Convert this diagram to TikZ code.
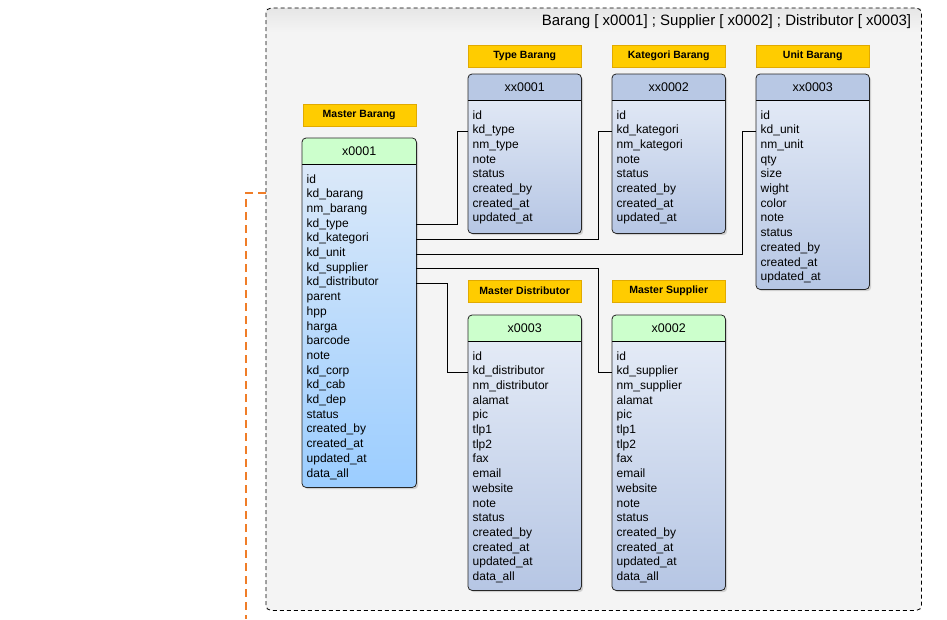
\documentclass[tikz,border=0pt]{standalone}
\usepackage{fontspec}
\setmainfont{Liberation Sans}
\usetikzlibrary{positioning,calc,shadows}
\definecolor{cYel}{RGB}{255,204,0}
\definecolor{cYelLine}{RGB}{225,170,0}
\definecolor{cGrnHead}{RGB}{204,255,204}
\definecolor{cBluHead}{RGB}{184,200,228}
\definecolor{cBodyTop}{RGB}{232,238,248}
\definecolor{cBodyBot}{RGB}{182,198,228}
\definecolor{cMainTop}{RGB}{224,235,248}
\definecolor{cMainBot}{RGB}{155,205,255}
\definecolor{cPanel}{RGB}{244,244,244}
\definecolor{cBand}{RGB}{230,230,230}
\definecolor{cOrg}{RGB}{240,125,40}
\tikzset{
  panel/.style={rectangle,fill=cPanel,inner sep=0pt,anchor=north west},
  panelline/.style={draw=black,line width=0.8pt,dash pattern=on 4pt off 3pt,
                    rounded corners=5pt},
  tagbox/.style={rectangle,fill=cYel,draw=cYelLine,minimum width=113pt,
                 minimum height=22pt,inner sep=0pt,
                 font=\fontsize{10.5}{12}\selectfont\bfseries},
  tblbody/.style={rectangle,rounded corners=4pt,inner sep=0pt,anchor=north west,
                  drop shadow={opacity=0.3,shadow xshift=2pt,shadow yshift=-2pt}},
  mainbody/.style={tblbody,top color=cMainTop,bottom color=cMainBot},
  refbody/.style={tblbody,top color=cBodyTop,bottom color=cBodyBot},
  tblline/.style={draw=black!85,line width=0.8pt,rounded corners=4pt},
  headtxt/.style={font=\fontsize{12.5}{14}\selectfont,inner sep=0pt},
  rowtxt/.style={font=\fontsize{12}{14}\selectfont,inner sep=0pt,anchor=base west},
  lnk/.style={draw=black,line width=0.7pt},
  orglnk/.style={draw=cOrg,line width=1.6pt,dash pattern=on 8pt off 5pt}
}
% table: name, x, y, width, height, head colour, body style, title, fields
\newcommand{\dbtable}[9]{%
  \node[#7,minimum width=#4pt,minimum height=#5pt] (#1) at (#2,#3) {};
  \begin{scope}
    \clip[rounded corners=4pt] (#1.north west) rectangle (#1.south east);
    \fill[#6] (#1.north west) rectangle ($(#1.north east)+(0,26)$);
  \end{scope}
  \draw[lnk] ($(#1.north west)+(0,26)$) -- ($(#1.north east)+(0,26)$);
  \draw[tblline] (#1.north west) rectangle (#1.south east);
  \node[headtxt] (#1-h) at ($(#1.north)+(0,13.5)$) {#8};
  \foreach \fld [count=\i] in {#9}
    \node[rowtxt] (#1-\i) at ($(#1.north west)+(4.5,45+14.7*\i-14.7)$) {\fld};
}

\begin{document}
\begin{tikzpicture}[x=1pt,y=-1pt]
  \useasboundingbox (0,0) rectangle (947,619);
  \node[panel,minimum width=655pt,minimum height=602pt] (box) at (266,8) {};
  \begin{scope}
    \clip[rounded corners=5pt] (box.north west) rectangle (box.south east);
    \shade[top color=cBand,bottom color=cPanel]
      (box.north west) rectangle ($(box.north east)+(0,24)$);
  \end{scope}
  \draw[panelline] (box.north west) rectangle (box.south east);
  \node[anchor=base east,inner sep=0pt,font=\fontsize{15}{18}\selectfont] (ttl)
      at ($(box.north east)+(-10,17)$)
      {Barang [ x0001] ; Supplier [ x0002] ; Distributor [ x0003]};

  \dbtable{mb}{302}{138}{114}{349}{cGrnHead}{mainbody}{x0001}
    {id,kd\_barang,nm\_barang,kd\_type,kd\_kategori,kd\_unit,kd\_supplier,
     kd\_distributor,parent,hpp,harga,barcode,note,kd\_corp,kd\_cab,kd\_dep,
     status,created\_by,created\_at,updated\_at,data\_all}
  \dbtable{tb}{468}{74}{113}{159}{cBluHead}{refbody}{xx0001}
    {id,kd\_type,nm\_type,note,status,created\_by,created\_at,updated\_at}
  \dbtable{kb}{612}{74}{113}{159}{cBluHead}{refbody}{xx0002}
    {id,kd\_kategori,nm\_kategori,note,status,created\_by,created\_at,updated\_at}
  \dbtable{ub}{756}{74}{113}{215}{cBluHead}{refbody}{xx0003}
    {id,kd\_unit,nm\_unit,qty,size,wight,color,note,status,created\_by,
     created\_at,updated\_at}
  \dbtable{md}{468}{315}{113}{275}{cGrnHead}{refbody}{x0003}
    {id,kd\_distributor,nm\_distributor,alamat,pic,tlp1,tlp2,fax,email,website,
     note,status,created\_by,created\_at,updated\_at,data\_all}
  \dbtable{ms}{612}{315}{113}{275}{cGrnHead}{refbody}{x0002}
    {id,kd\_supplier,nm\_supplier,alamat,pic,tlp1,tlp2,fax,email,website,
     note,status,created\_by,created\_at,updated\_at,data\_all}

  \node[tagbox,above=12pt of mb] (mbtag) {Master Barang};
  \node[tagbox,above=7pt of tb] (tbtag) {Type Barang};
  \node[tagbox,above=7pt of kb] (kbtag) {Kategori Barang};
  \node[tagbox,above=7pt of ub] (ubtag) {Unit Barang};
  \node[tagbox,above=13pt of md] (mdtag) {Master Distributor};
  \node[tagbox,above=13pt of ms] (mstag) {Master Supplier};

  \draw[lnk] (mb-4.mid -| mb.east) -- ++(41,0) |- (tb-2.mid -| tb.west);
  \draw[lnk] (mb-5.mid -| mb.east) -- ++(182,0) |- (kb-2.mid -| kb.west);
  \draw[lnk] (mb-6.mid -| mb.east) -- ++(326,0) |- (ub-2.mid -| ub.west);
  \draw[lnk] (mb-7.mid -| mb.east) -- ++(182,0) |- (ms-2.mid -| ms.west);
  \draw[lnk] (mb-8.mid -| mb.east) -- ++(31,0) |- (md-2.mid -| md.west);

  \coordinate (orgEnd) at (246,619);
  \draw[orglnk] ($(box.north west)+(0,185)$) -| (orgEnd);
\end{tikzpicture}
\end{document}
